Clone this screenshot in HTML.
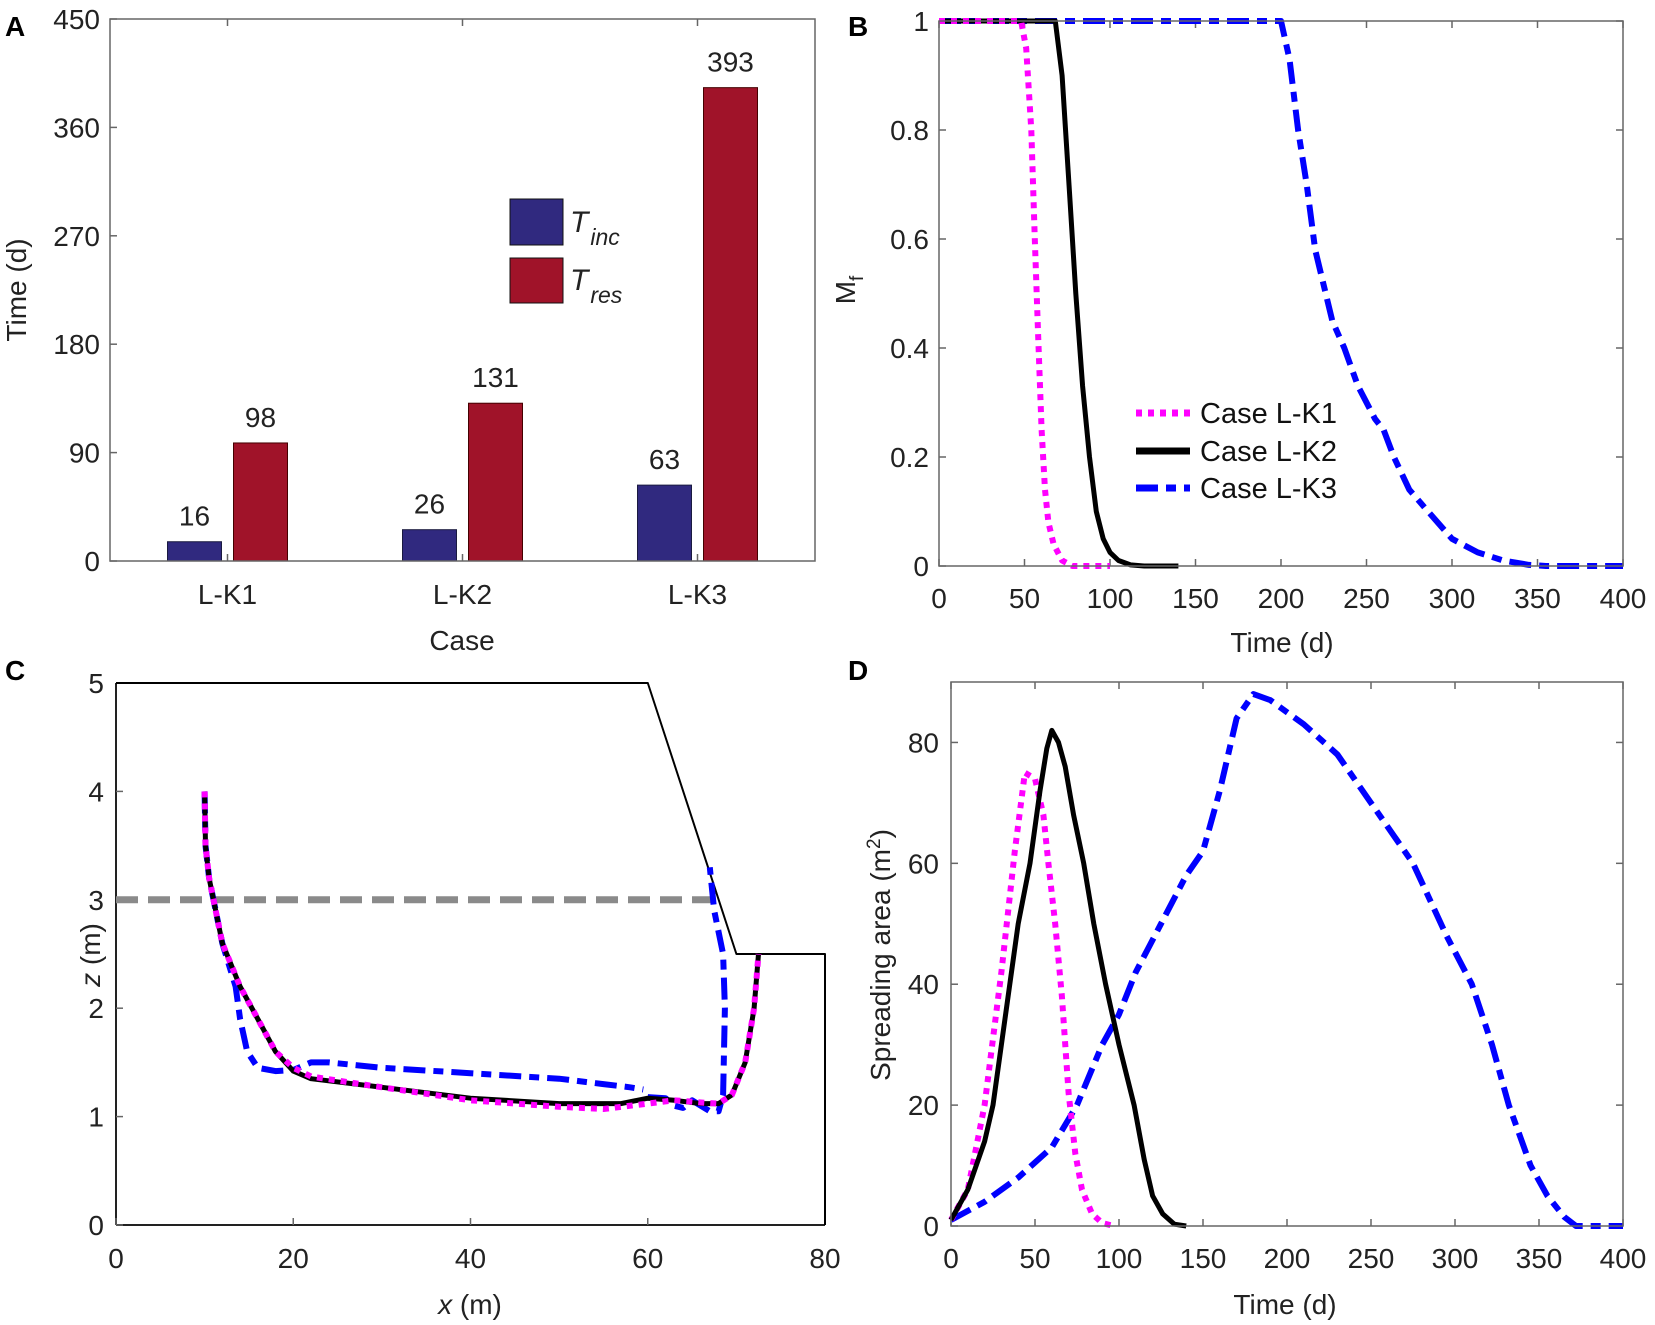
<!DOCTYPE html>
<html><head><meta charset="utf-8"><style>
html,body{margin:0;padding:0;background:#fff;}
svg{display:block;font-family:"Liberation Sans",Arial,sans-serif;}
</style></head><body>
<svg id="fig" width="1655" height="1325" viewBox="0 0 1655 1325" xmlns="http://www.w3.org/2000/svg">
<rect width="1655" height="1325" fill="#fff"/>
<g id="root"></g>
</svg>
<script>
// ---- Panel A data ----
const caseCats = ["L-K1","L-K2","L-K3"];
const tIncValues = [16,26,63];
const tResValues = [98,131,393];
const aTicks = [0,90,180,270,360,450];
// ---- Panel B data ----
const bK1T = [0,48,51,54,56,58,60,62,64,67,72,78,100];
const bK1M = [1,1,0.95,0.8,0.6,0.42,0.25,0.14,0.08,0.04,0.01,0,0];
const bK2T = [0,68,72,76,80,84,88,92,96,100,105,112,120,140];
const bK2M = [1,1,0.9,0.7,0.5,0.33,0.2,0.1,0.05,0.025,0.01,0.002,0,0];
const bK3T = [0,200,205,210,215,220,230,237,245,255,260,266,275,286,300,315,330,345,355,400];
const bK3M = [1,1,0.93,0.8,0.7,0.58,0.45,0.4,0.33,0.27,0.25,0.2,0.14,0.1,0.05,0.025,0.01,0.002,0,0];
const bXTicks = [0,50,100,150,200,250,300,350,400];
const bYTicks = [0,0.2,0.4,0.6,0.8,1];
// ---- Panel C data ----
const cBoundX = [0,60,70,80,80];
const cBoundZ = [5,5,2.5,2.5,0];
const cK2X = [10,10.1,10.5,11,12,14,16,18,20,22,30,40,50,57,60,63,66,68,69.5,71,72,72.5];
const cK2Z = [4,3.5,3.2,3,2.6,2.2,1.9,1.6,1.42,1.35,1.27,1.17,1.12,1.12,1.17,1.15,1.12,1.12,1.2,1.5,2,2.5];
const cK1X = [10,10.1,10.5,11,12,14,16,18,20,22,30,40,50,55,60,63,66,68,69.5,71,72,72.5];
const cK1Z = [4,3.5,3.2,3,2.6,2.2,1.9,1.6,1.45,1.37,1.27,1.15,1.09,1.07,1.12,1.15,1.13,1.12,1.2,1.5,2,2.5];
const cK3aX = [10,10.1,10.5,11,12,13.5,14,14.8,16,18,20,22,24,30,40,50,55,58,59.5];
const cK3aZ = [4,3.5,3.2,3,2.6,2.2,1.9,1.6,1.45,1.42,1.43,1.5,1.5,1.45,1.4,1.35,1.3,1.27,1.25];
const cK3bX = [60,62,63,64,65,66,67,68,68.5,68.7,68.5,67.5,67];
const cK3bZ = [1.18,1.17,1.1,1.08,1.15,1.1,1.05,1.05,1.2,2,2.5,2.9,3.3];
const cXTicks = [0,20,40,60,80];
const cYTicks = [0,1,2,3,4,5];
// ---- Panel D data ----
const dK1T = [0,10,20,30,38,44,50,55,58,62,66,70,74,78,84,90,97];
const dK1A = [1,6,20,42,62,75,74,68,60,50,38,22,12,6,2,0.5,0];
const dK2T = [0,10,20,25,30,35,40,47,53,57,60,64,68,73,79,85,92,100,109,115,120,126,133,140];
const dK2A = [1,6,14,20,30,40,50,60,72,79,82,80,76,68,60,50,40,30,20,11,5,2,0.3,0];
const dK3T = [0,20,40,60,75,90,100,110,125,140,150,160,170,180,190,210,230,250,275,295,310,322,332,345,355,365,372,400];
const dK3A = [1,4,8,13,20,30,35,42,50,58,62,72,84,88,87,83,78,70,60,48,40,30,20,10,5,1.5,0,0];
const dXTicks = [0,50,100,150,200,250,300,350,400];
const dYTicks = [0,20,40,60,80];

const NS="http://www.w3.org/2000/svg";
const root=document.getElementById('root');
function mk(tag,attrs,parent){const e=document.createElementNS(NS,tag);for(const k in attrs)e.setAttribute(k,attrs[k]);(parent||root).appendChild(e);return e;}
function txt(s,x,y,size,anchor,parent,extra){const t=mk('text',Object.assign({x:x,y:y,'font-size':size,'text-anchor':anchor||'middle',fill:'#222'},extra||{}),parent);t.textContent=s;return t;}
function lin(d0,d1,r0,r1){return v=>r0+(v-d0)/(d1-d0)*(r1-r0);}
function axesBox(g,x0,y0,x1,y1){mk('rect',{x:x0,y:y0,width:x1-x0,height:y1-y0,fill:'none',stroke:'#666','stroke-width':1.5},g);}
function path(g,xs,ys,sx,sy,style){let d='';for(let i=0;i<xs.length;i++)d+=(i?'L':'M')+sx(xs[i]).toFixed(1)+','+sy(ys[i]).toFixed(1);return mk('path',Object.assign({d:d,fill:'none','stroke-linejoin':'round'},style),g);}
const SK1={stroke:'#f0f',"stroke-width":6,"stroke-dasharray":"6 6"};
const SK2={stroke:'#000',"stroke-width":5};
const SK3={stroke:'#00f',"stroke-width":6,"stroke-dasharray":"22 8 10 8"};
const FS=28;

// ===== Panel A =====
(function(){
const g=mk('g',{});


const X0=110,X1=815,Y0=19,Y1=561;
const sy=lin(0,450,Y1,Y0);
const band=(X1-X0)/caseCats.length;
const t=txt('A',5,36,28,'start',g,{'font-weight':'bold',fill:'#000'});


aTicks.forEach(v=>{
  const l=mk('line',{x1:X0,x2:X0+7,y1:sy(v),y2:sy(v),stroke:'#666','stroke-width':1.5},g);
  
  
  const tt=txt(String(v),X0-10,sy(v)+10,FS,'end',g);
  
  
});
caseCats.forEach((c,i)=>{
  const cx=X0+band*(i+0.5);
  mk('line',{x1:cx,x2:cx,y1:Y1,y2:Y1-7,stroke:'#666','stroke-width':1.5},g);
  mk('line',{x1:cx,x2:cx,y1:Y0,y2:Y0+7,stroke:'#666','stroke-width':1.5},g);
  const cl=txt(c,cx,604,FS,'middle',g);
  
  
  const w=54;
  const b1=mk('rect',{x:cx-60,y:sy(tIncValues[i]),width:w,height:Y1-sy(tIncValues[i]),fill:'#30297f',stroke:'#1a1a40','stroke-width':1},g);
  
  
  const b2=mk('rect',{x:cx+6,y:sy(tResValues[i]),width:w,height:Y1-sy(tResValues[i]),fill:'#a01329',stroke:'#400',"stroke-width":1},g);
  
  
  const v1=txt(String(tIncValues[i]),cx-33,sy(tIncValues[i])-16,FS,'middle',g);
  
  
  const v2=txt(String(tResValues[i]),cx+33,sy(tResValues[i])-16,FS,'middle',g);
  
  
});
axesBox(g,X0,Y0,X1,Y1);
const xt=txt('Case',462,650,FS,'middle',g);


const yt=txt('Time (d)',0,0,FS,'middle',g,{transform:'translate(26,290) rotate(-90)'});


const lg=mk('g',{},g);


mk('rect',{x:510,y:199,width:53,height:46,fill:'#30297f',stroke:'#111'},lg);
mk('rect',{x:510,y:258,width:53,height:45,fill:'#a01329',stroke:'#111'},lg);
const l1=mk('text',{x:570,y:232,'font-size':30,'font-style':'italic',fill:'#222'},lg);
l1.innerHTML='T<tspan font-size="23" dy="13" dx="2">inc</tspan>';
const l2=mk('text',{x:570,y:290,'font-size':30,'font-style':'italic',fill:'#222'},lg);
l2.innerHTML='T<tspan font-size="23" dy="13" dx="2">res</tspan>';
})();

// ===== Panel B =====
(function(){
const g=mk('g',{});


const X0=939,X1=1623,Y0=21,Y1=566;
const sx=lin(0,400,X0,X1),sy=lin(0,1,Y1,Y0);
const t=txt('B',848,36,28,'start',g,{'font-weight':'bold',fill:'#000'});


bXTicks.forEach(v=>{
  mk('line',{x1:sx(v),x2:sx(v),y1:Y1,y2:Y1-7,stroke:'#666','stroke-width':1.5},g);
  mk('line',{x1:sx(v),x2:sx(v),y1:Y0,y2:Y0+7,stroke:'#666','stroke-width':1.5},g);
  const tt=txt(String(v),sx(v),608,FS,'middle',g);
  
  
});
bYTicks.forEach(v=>{
  mk('line',{x1:X0,x2:X0+7,y1:sy(v),y2:sy(v),stroke:'#666','stroke-width':1.5},g);
  mk('line',{x1:X1,x2:X1-7,y1:sy(v),y2:sy(v),stroke:'#666','stroke-width':1.5},g);
  const tt=txt(String(v),X0-10,sy(v)+10,FS,'end',g);
  
  
});
const p3=path(g,bK3T,bK3M,sx,sy,SK3);


const p2=path(g,bK2T,bK2M,sx,sy,SK2);


const p1=path(g,bK1T,bK1M,sx,sy,SK1);


axesBox(g,X0,Y0,X1,Y1);
const xt=txt('Time (d)',1282,652,FS,'middle',g);


const yt=mk('text',{'font-size':FS,'text-anchor':'middle',fill:'#222',transform:'translate(855,290) rotate(-90)'},g);
yt.innerHTML='M<tspan font-size="19" dy="8">f</tspan>';


const lg=mk('g',{},g);


const ly=[413,451,488],ls=[SK1,SK2,SK3],ln=['Case L-K1','Case L-K2','Case L-K3'];
for(let i=0;i<3;i++){
  mk('line',Object.assign({x1:1136,x2:1190,y1:ly[i],y2:ly[i]},ls[i],{'stroke-width':7}),lg);
  const tt=txt(ln[i],1200,ly[i]+10,29,'start',lg,{fill:'#111'});
  
  
}
})();

// ===== Panel C =====
(function(){
const g=mk('g',{});


const X0=116,X1=825,Y0=683,Y1=1225;
const sx=lin(0,80,X0,X1),sy=lin(0,5,Y1,Y0);
const t=txt('C',5,680,28,'start',g,{'font-weight':'bold',fill:'#000'});


mk('line',{x1:X0,x2:X0,y1:Y0,y2:Y1,stroke:'#222','stroke-width':2},g);
mk('line',{x1:X0,x2:X1,y1:Y1,y2:Y1,stroke:'#222','stroke-width':2},g);
cXTicks.forEach(v=>{
  mk('line',{x1:sx(v),x2:sx(v),y1:Y1,y2:Y1-7,stroke:'#666','stroke-width':1.5},g);
  const tt=txt(String(v),sx(v),1268,FS,'middle',g);
  
  
});
cYTicks.forEach(v=>{
  mk('line',{x1:X0,x2:X0+7,y1:sy(v),y2:sy(v),stroke:'#666','stroke-width':1.5},g);
  const tt=txt(String(v),X0-12,sy(v)+10,FS,'end',g);
  
  
});
const bd=path(g,[0].concat(cBoundX),[5].concat(cBoundZ),sx,sy,{stroke:'#000','stroke-width':2});


const wt=mk('line',{x1:sx(0),x2:sx(68),y1:sy(3),y2:sy(3),stroke:'#8a8a8a','stroke-width':7,'stroke-dasharray':'22 10'},g);


const a=path(g,cK3aX,cK3aZ,sx,sy,SK3);


const b=path(g,cK3bX,cK3bZ,sx,sy,SK3);


const p2=path(g,cK2X,cK2Z,sx,sy,SK2);


const p1=path(g,cK1X,cK1Z,sx,sy,SK1);


const xt=mk('text',{x:470,y:1314,'font-size':FS,'text-anchor':'middle',fill:'#222'},g);
xt.innerHTML='<tspan font-style="italic">x</tspan> (m)';


const yt=mk('text',{'font-size':FS,'text-anchor':'middle',fill:'#222',transform:'translate(100,955) rotate(-90)'},g);
yt.innerHTML='<tspan font-style="italic">z</tspan> (m)';


})();

// ===== Panel D =====
(function(){
const g=mk('g',{});


const X0=951,X1=1623,Y0=682,Y1=1226;
const sx=lin(0,400,X0,X1),sy=lin(0,90,Y1,Y0);
const t=txt('D',848,680,28,'start',g,{'font-weight':'bold',fill:'#000'});


dXTicks.forEach(v=>{
  mk('line',{x1:sx(v),x2:sx(v),y1:Y1,y2:Y1-7,stroke:'#666','stroke-width':1.5},g);
  mk('line',{x1:sx(v),x2:sx(v),y1:Y0,y2:Y0+7,stroke:'#666','stroke-width':1.5},g);
  const tt=txt(String(v),sx(v),1268,FS,'middle',g);
  
  
});
dYTicks.forEach(v=>{
  mk('line',{x1:X0,x2:X0+7,y1:sy(v),y2:sy(v),stroke:'#666','stroke-width':1.5},g);
  mk('line',{x1:X1,x2:X1-7,y1:sy(v),y2:sy(v),stroke:'#666','stroke-width':1.5},g);
  const tt=txt(String(v),X0-12,sy(v)+10,FS,'end',g);
  
  
});
const p3=path(g,dK3T,dK3A,sx,sy,SK3);


const p1=path(g,dK1T,dK1A,sx,sy,SK1);


const p2=path(g,dK2T,dK2A,sx,sy,SK2);


axesBox(g,X0,Y0,X1,Y1);
const xt=txt('Time (d)',1285,1314,FS,'middle',g);


const yt=mk('text',{'font-size':FS,'text-anchor':'middle',fill:'#222',transform:'translate(890,955) rotate(-90)'},g);
yt.innerHTML='Spreading area (m<tspan font-size="19" dy="-10">2</tspan><tspan dy="10">)</tspan>';


})();
</script>
</body></html>
